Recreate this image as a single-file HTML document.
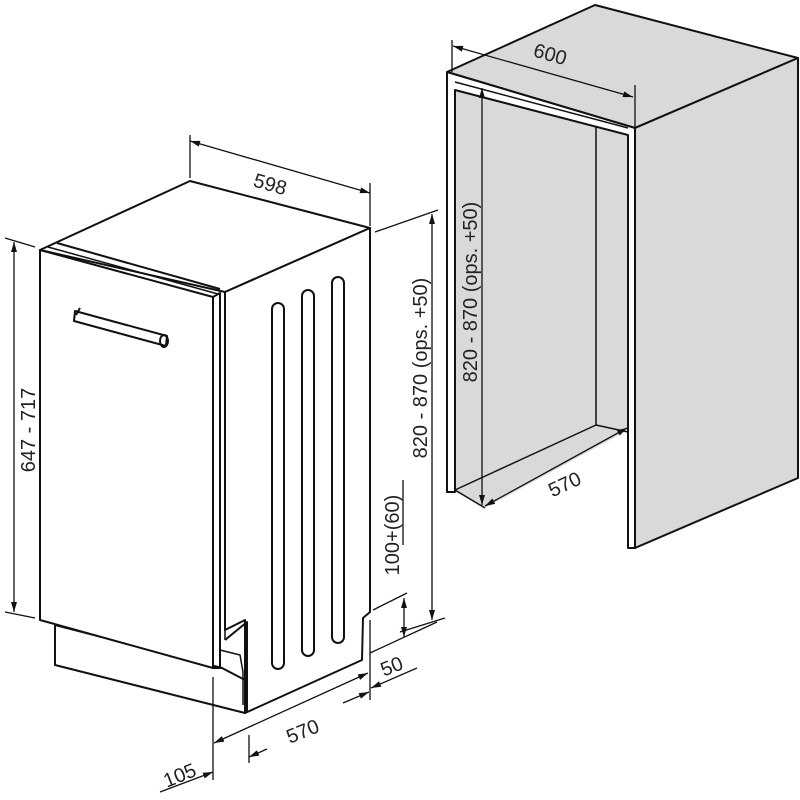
<!DOCTYPE html>
<html><head><meta charset="utf-8"><style>html,body{margin:0;padding:0;background:#fff}svg{display:block}text{font-family:"Liberation Sans",sans-serif;fill:#222}</style></head>
<body>
<svg width="800" height="800" viewBox="0 0 800 800" xmlns="http://www.w3.org/2000/svg">
<defs>
<marker id="a" viewBox="0 0 10 6" refX="10" refY="3" markerWidth="11" markerHeight="6" orient="auto-start-reverse" markerUnits="userSpaceOnUse"><path d="M0,0 L10,3 L0,6 z" fill="#111"/></marker>
</defs>
<g stroke="#111" fill="none" stroke-width="2" stroke-linejoin="round">
<!-- cabinet -->
<polygon points="447,72 595,5 798,58 635,128" fill="#d9d9d9"/>
<polygon points="635,128 798,58 798,478 635,548" fill="#d9d9d9"/>
<polygon points="455,90 628,135 628,430 485,508 455,492" fill="#d9d9d9" stroke="none"/>
<line x1="596" y1="122" x2="596" y2="425" stroke-width="1.5"/>
<line x1="596" y1="425" x2="628" y2="432" stroke-width="1.5"/>
<line x1="455" y1="490" x2="596" y2="425" stroke-width="1.5"/>
<line x1="455" y1="490" x2="485" y2="508" stroke-width="1.5"/>
<polygon points="447,72 635,128 635,548 628,548 628,135 455,90 455,492 447,492" fill="#fff"/>
<line x1="455" y1="82" x2="628" y2="128" stroke-width="1.5"/>
<!-- dishwasher -->
<polygon points="40,250 190,181 370,228 225,292" fill="#fff"/>
<polyline points="57,243 220,289"/><polyline points="48,247 218,294" stroke-width="1.5"/>
<polygon points="225,292 370,228 370,612 363,618 362,660 245,713 245,620 225,630" fill="#fff"/>
<polygon points="55,625 55,665 245,713 245,680 222,668" fill="#fff"/>
<polygon points="40,250 213,297 213,668 40,620" fill="#fff"/>
<polyline points="213,297 220,293 220,668 213,668"/>
<line x1="225" y1="292" x2="225" y2="640" stroke-width="1.5"/>
<polyline points="225,640 247,622 247,713"/>
<polyline points="220,650 240,655 243,672 243,705" stroke-width="1.5"/>
<rect x="272" y="303" width="12" height="366" rx="6"/>
<rect x="302" y="290" width="12" height="366" rx="6"/>
<rect x="332" y="277" width="12" height="366" rx="6"/>
<polygon points="75,311 167,336 166,346 74,321" fill="#fff"/>
<line x1="80" y1="308" x2="76" y2="315"/>
<ellipse cx="164" cy="341" rx="4" ry="6"/>
</g>
<!-- dimensions -->
<g stroke="#111" stroke-width="1.3" fill="none">
<line x1="190" y1="135" x2="190" y2="178"/><line x1="370" y1="183" x2="370" y2="226"/>
<line x1="190" y1="141" x2="370" y2="193" marker-start="url(#a)" marker-end="url(#a)"/>
<line x1="5" y1="238" x2="35" y2="247"/><line x1="5" y1="612" x2="35" y2="618"/>
<line x1="14" y1="242" x2="14" y2="612" marker-start="url(#a)" marker-end="url(#a)"/>
<line x1="375" y1="232" x2="438" y2="210"/><line x1="400" y1="632" x2="445" y2="618"/>
<line x1="432" y1="214" x2="432" y2="620" marker-start="url(#a)" marker-end="url(#a)"/>
<line x1="373" y1="610" x2="407" y2="593"/><line x1="370" y1="653" x2="437" y2="622"/>
<line x1="404" y1="598" x2="404" y2="637" marker-start="url(#a)" marker-end="url(#a)"/>
<line x1="403" y1="480" x2="403" y2="545"/>
<line x1="213" y1="677" x2="213" y2="780"/><line x1="249" y1="735" x2="249" y2="763"/><line x1="370" y1="620" x2="370" y2="700"/>
<line x1="214" y1="743" x2="368" y2="673" marker-start="url(#a)" marker-end="url(#a)"/>
<line x1="160" y1="792" x2="213" y2="772" marker-end="url(#a)"/><line x1="249" y1="757" x2="267" y2="749" marker-start="url(#a)"/>
<line x1="343" y1="703" x2="369" y2="692" marker-end="url(#a)"/><line x1="371" y1="688" x2="417" y2="668" marker-start="url(#a)"/>
<line x1="452" y1="40" x2="452" y2="72"/><line x1="635" y1="85" x2="635" y2="128"/>
<line x1="453" y1="46" x2="633" y2="97" marker-start="url(#a)" marker-end="url(#a)"/>
<line x1="482" y1="88" x2="482" y2="505" marker-start="url(#a)" marker-end="url(#a)"/>
<line x1="485" y1="506" x2="627" y2="428" marker-start="url(#a)" marker-end="url(#a)"/>
</g>
<g font-size="20">
<text x="270" y="191" transform="rotate(16 270 185)" text-anchor="middle">598</text>
<text x="35" y="430" transform="rotate(-90 35 430)" text-anchor="middle">647 - 717</text>
<text x="427" y="368" transform="rotate(-90 427 368)" text-anchor="middle">820 - 870 (ops. +50)</text>
<text x="399" y="535" transform="rotate(-90 399 535)" text-anchor="middle">100+(60)</text>
<text x="392" y="673" transform="rotate(-22 392 667)" text-anchor="middle">50</text>
<text x="303" y="738" transform="rotate(-22 303 732)" text-anchor="middle">570</text>
<text x="180" y="782" transform="rotate(-22 180 776)" text-anchor="middle">105</text>
<text x="550" y="61" transform="rotate(16 550 55)" text-anchor="middle">600</text>
<text x="477" y="292" transform="rotate(-90 477 292)" text-anchor="middle">820 - 870 (ops. +50)</text>
<text x="565" y="491" transform="rotate(-25 565 485)" text-anchor="middle">570</text>
</g>
</svg>
</body></html>
